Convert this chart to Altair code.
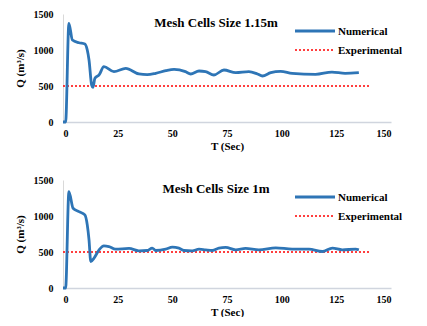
import altair as alt
import pandas as pd

# ---- data ----
top_t = [0, 1.2, 2.7, 4.3, 7.3, 10, 11.1, 11.9, 13.1, 13.7, 14.6, 16.5, 18.7, 23.3, 28.7, 34.7,
         38.5, 42.4, 47, 50.8, 56, 58.4, 62.2, 65.2, 69, 73.6, 79, 85, 88.9, 91.2, 95, 99.5,
         104.8, 115.5, 123, 129, 135.3]
top_q = [0, 0, 1370, 1139, 1101, 1083, 1000, 861, 514, 482, 607, 653, 768, 699, 745, 667,
         657, 676, 713, 731, 699, 667, 708, 699, 653, 722, 685, 699, 667, 639, 685, 704,
         676, 662, 694, 676, 685]

bot_t = [0, 1.2, 2.7, 4.6, 7.3, 10, 11.1, 11.9, 12.7, 14.2, 16.5, 18.7, 21, 24, 30.2, 34.7,
         38.5, 40.8, 42.4, 47, 50, 53, 55.3, 59.1, 62.2, 65.2, 68.3, 71.3, 74.4, 79, 83.5,
         89.6, 97.3, 104.8, 112.5, 118.6, 123.2, 127.7, 133.8, 135.3]
bot_q = [0, 0, 1338, 1108, 1061, 1015, 877, 669, 368, 415, 530, 586, 576, 540, 549, 517,
         521, 554, 521, 540, 568, 554, 521, 517, 540, 530, 521, 554, 563, 530, 549,
         530, 558, 540, 540, 507, 554, 530, 540, 530]

exp_t = [0, 140]
exp_q = [500, 500]

titles = ["Mesh Cells Size 1.15m", "Mesh Cells Size 1m"]
legend_labels = ["Numerical", "Experimental"]
x_ticks = [0, 25, 50, 75, 100, 125, 150]
y_ticks = [0, 500, 1000, 1500]

BLUE = "#2E75B6"
RED = "#FF0000"
FONT = "Liberation Serif"


def panel(t, q, title):
    num = pd.DataFrame({"t": t, "q": q})
    exp = pd.DataFrame({"t": exp_t, "q": exp_q})
    x = alt.X("t:Q", scale=alt.Scale(domain=[0, 150], nice=False),
              axis=alt.Axis(values=x_ticks, title="T (Sec)", grid=False, ticks=False,
                            format="d",
                            domainColor="#D0D5DE", domainWidth=1.5, labelPadding=6,
                            titlePadding=2))
    y = alt.Y("q:Q", scale=alt.Scale(domain=[0, 1500], nice=False),
              axis=alt.Axis(values=y_ticks, title="Q (m³/s)", grid=False, ticks=False,
                            format="d",
                            domainColor="#D9D9D9", domainWidth=1, labelPadding=10,
                            titlePadding=8))
    line_exp = alt.Chart(exp).mark_line(color=RED, strokeWidth=1.6, strokeDash=[2, 2]).encode(x=x, y=y)
    line_num = alt.Chart(num).mark_line(color=BLUE, strokeWidth=2.8, interpolate="monotone").encode(x=x, y=y)

    one = pd.DataFrame({"a": [0]})
    ttl = alt.Chart(one).mark_text(text=title, font=FONT, fontWeight="bold", fontSize=13,
                                   align="center", baseline="middle", color="#000").encode(
        x=alt.value(153), y=alt.value(9))
    leg_num_rule = alt.Chart(one).mark_rule(color=BLUE, strokeWidth=3).encode(
        x=alt.value(232), x2=alt.value(272), y=alt.value(17))
    leg_exp_rule = alt.Chart(one).mark_rule(color=RED, strokeWidth=1.6, strokeDash=[2, 2]).encode(
        x=alt.value(232), x2=alt.value(272), y=alt.value(36))
    leg_num_txt = alt.Chart(one).mark_text(text=legend_labels[0], font=FONT, fontWeight="bold",
                                           fontSize=11, align="left", baseline="middle",
                                           color="#000").encode(x=alt.value(275), y=alt.value(18))
    leg_exp_txt = alt.Chart(one).mark_text(text=legend_labels[1], font=FONT, fontWeight="bold",
                                           fontSize=11, align="left", baseline="middle",
                                           color="#000").encode(x=alt.value(275), y=alt.value(37))
    return alt.layer(line_exp, line_num, ttl, leg_num_rule, leg_exp_rule, leg_num_txt,
                     leg_exp_txt).properties(width=328, height=108)


chart = alt.vconcat(
    panel(top_t, top_q, titles[0]),
    panel(bot_t, bot_q, titles[1]),
    spacing=58, bounds="flush",
).properties(padding={"left": 6, "top": 1, "right": 0, "bottom": 0}).configure_view(
    stroke=None
).configure_axis(
    labelFont=FONT, labelFontWeight="bold", labelFontSize=10, labelColor="#000",
    titleFont=FONT, titleFontWeight="bold", titleFontSize=11, titleColor="#000",
)

chart.save("out.html", embed_options={"renderer": "svg", "actions": False})
